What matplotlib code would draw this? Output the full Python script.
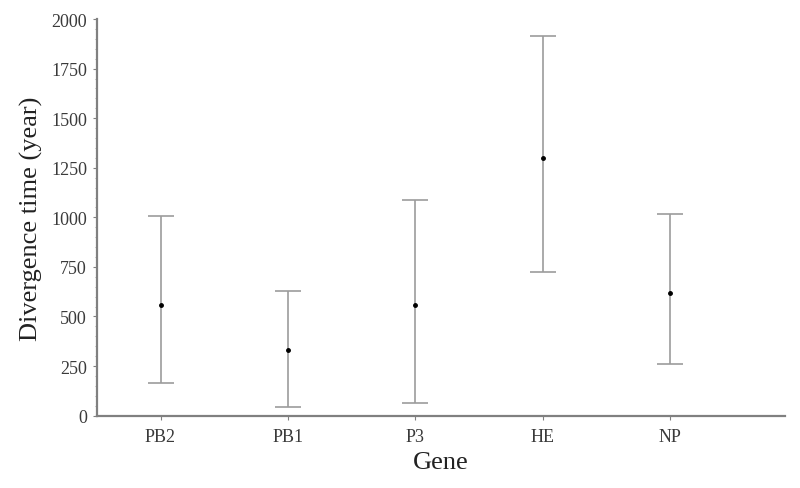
import numpy as np
import matplotlib.pyplot as plt
from matplotlib.ticker import MultipleLocator

# Data
genes = ["PB2", "PB1", "P3", "HE", "NP"]
mean_time = [556, 333, 556, 1298, 616]
lower = [167, 45, 66, 722, 258]
upper = [1005, 626, 1086, 1914, 1015]

plt.rcParams['font.family'] = ['Liberation Serif', 'DejaVu Serif']

x = np.arange(1, len(genes) + 1)
mean = np.array(mean_time)
yerr = [mean - np.array(lower), np.array(upper) - mean]

fig = plt.figure(figsize=(8, 4.89), dpi=100)
ax = fig.add_axes([0.121, 0.148, 0.86, 0.811])

ax.errorbar(x, mean, yerr=yerr, fmt='none', ecolor='#9c9c9c',
            elinewidth=1.2, capsize=9.5, capthick=1.2)
ax.plot(x, mean, 'o', color='black', markersize=2.5)

ax.set_xlim(0.5, 5.9)
ax.set_ylim(0, 2000)
ax.set_xticks(x)
ax.set_xticklabels(genes)
ax.yaxis.set_major_locator(MultipleLocator(250))
ax.yaxis.set_minor_locator(MultipleLocator(50))

for side in ['top', 'right']:
    ax.spines[side].set_visible(False)
for side in ['left', 'bottom']:
    ax.spines[side].set_color('#808080')
    ax.spines[side].set_linewidth(1.6)

ax.tick_params(axis='both', which='major', length=3, color='#808080',
               labelsize=13, labelcolor='#3a3a3a', pad=4)
ax.tick_params(axis='y', which='minor', length=1.5, color='#9a9a9a')
ax.tick_params(axis='x', pad=6)

ax.set_xlabel("Gene", fontsize=19, color='#222222', labelpad=4)
ax.set_ylabel("Divergence time (year)", fontsize=19, color='#222222', labelpad=6)

plt.savefig("out.png", dpi=100)
